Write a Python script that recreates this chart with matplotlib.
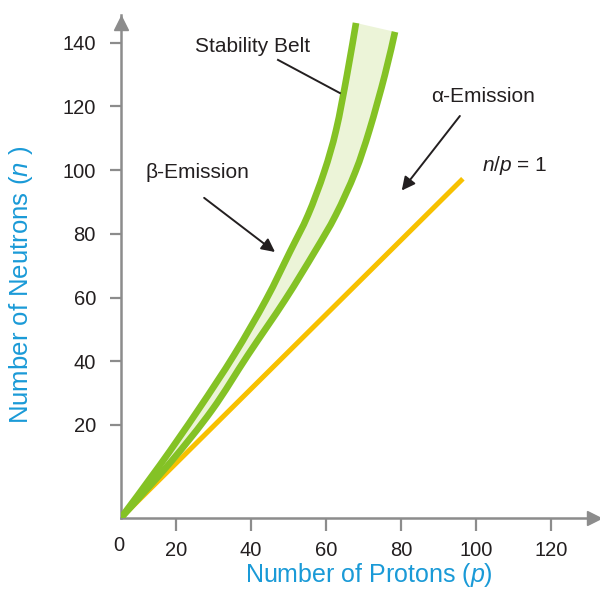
import matplotlib
matplotlib.use("Agg")
import matplotlib.pyplot as plt
from matplotlib.path import Path
from matplotlib.patches import PathPatch

plt.rcParams['font.family'] = ['Liberation Sans', 'DejaVu Sans']
plt.rcParams['mathtext.fontset'] = 'custom'
plt.rcParams['mathtext.rm'] = 'Liberation Sans'
plt.rcParams['mathtext.it'] = 'Liberation Sans:italic'

# stability belt boundaries (protons, neutrons)
belt_upper_p = [5.3, 15.7, 25.9, 35.5, 44.0, 50.4, 55.2, 59.5, 62.7, 65.6, 68.0]
belt_upper_n = [-9.2, 7.4, 24.7, 42.0, 59.3, 74.4, 85.9, 99.4, 112.6, 129.9, 146.2]
belt_lower_p = [5.3, 18.4, 29.6, 39.2, 49.1, 57.0, 62.6, 67.8, 71.6, 75.7, 78.4]
belt_lower_n = [-9.2, 8.1, 24.7, 42.0, 59.3, 74.4, 85.9, 99.4, 112.6, 129.9, 143.4]

# n/p = 1 reference line
ratio_p = [5.3, 96.5]
ratio_n = [-9.2, 97.3]

x_ticks = [20, 40, 60, 80, 100, 120]
y_ticks = [20, 40, 60, 80, 100, 120, 140]

GREEN = '#84c225'
BELT_FILL = '#ecf4d8'
YELLOW = '#f7c100'
AXIS_GRAY = '#8c8c8c'
TEXT = '#231f20'
BLUE = '#1a9ad7'


def curve_segments(xs, ys):
    """Bezier pieces (Catmull-Rom style) that pass through the given points"""
    pts = list(zip(xs, ys))
    verts = []
    n = len(pts)
    for i in range(n - 1):
        p0 = pts[i - 1] if i > 0 else pts[i]
        p1, p2 = pts[i], pts[i + 1]
        p3 = pts[i + 2] if i + 2 < n else pts[i + 1]
        c1 = (p1[0] + (p2[0] - p0[0]) / 6, p1[1] + (p2[1] - p0[1]) / 6)
        c2 = (p2[0] - (p3[0] - p1[0]) / 6, p2[1] - (p3[1] - p1[1]) / 6)
        verts += [c1, c2, p2]
    return pts[0], verts


fig = plt.figure(figsize=(6, 5.89), dpi=100)
ax = fig.add_axes([121 / 600, 71 / 589, 479 / 600, 503 / 589])
ax.set_xlim(5.33, 133.07)
ax.set_ylim(-9.2, 148.7)

# n/p = 1 line under the belt
ax.plot(ratio_p, ratio_n, color=YELLOW, lw=3.6, solid_capstyle='butt', zorder=2)

# belt fill: up the left edge, across the top, down the right edge
start_u, rest_u = curve_segments(belt_upper_p, belt_upper_n)
start_l, rest_l = curve_segments(belt_lower_p[::-1], belt_lower_n[::-1])
verts = [start_u] + rest_u + [start_l] + rest_l + [start_u]
codes = ([Path.MOVETO] + [Path.CURVE4] * len(rest_u) + [Path.LINETO]
         + [Path.CURVE4] * len(rest_l) + [Path.CLOSEPOLY])
ax.add_patch(PathPatch(Path(verts, codes), facecolor=BELT_FILL, lw=0, zorder=3))

# belt edges
for bp, bn in [(belt_upper_p, belt_upper_n), (belt_lower_p, belt_lower_n)]:
    start, rest = curve_segments(bp, bn)
    path = Path([start] + rest, [Path.MOVETO] + [Path.CURVE4] * len(rest))
    ax.add_patch(PathPatch(path, facecolor='none', edgecolor=GREEN, lw=4.8,
                           capstyle='butt', joinstyle='round', zorder=4))

# axes look: gray lines with arrow heads
for side in ['top', 'right']:
    ax.spines[side].set_visible(False)
for side in ['left', 'bottom']:
    ax.spines[side].set_color(AXIS_GRAY)
    ax.spines[side].set_linewidth(1.8)
    ax.spines[side].set_zorder(1)
ax.plot(0.988, 0, '>', transform=ax.transAxes, color=AXIS_GRAY, ms=10,
        clip_on=False, zorder=1)
ax.plot(0, 0.985, '^', transform=ax.transAxes, color=AXIS_GRAY, ms=10,
        clip_on=False, zorder=1)

ax.set_xticks(x_ticks)
ax.set_yticks(y_ticks)
ax.tick_params(axis='x', direction='out', length=9.5, width=1.6, color=AXIS_GRAY,
               labelsize=14.5, labelcolor=TEXT, pad=7)
ax.tick_params(axis='y', direction='out', length=8, width=1.6, color=AXIS_GRAY,
               labelsize=14.5, labelcolor=TEXT, pad=10)
ax.text(-0.005, -0.035, '0', transform=ax.transAxes, fontsize=14.5, color=TEXT,
        ha='center', va='top')

# axis titles placed where the reference has them
fig.text(369 / 600, 1 - 575 / 589, 'Number of Protons ($\\mathit{p}$)', fontsize=18,
         color=BLUE, ha='center', va='center')
fig.text(21 / 600, 1 - 285 / 589, 'Number of Neutrons ($\\mathit{n}$ )', fontsize=18.5,
         color=BLUE, ha='center', va='center', rotation=90)

# annotations
ax.text(40.5, 138.9, 'Stability Belt', fontsize=15, color=TEXT, ha='center', va='center')
ax.plot([47.2, 63.7], [134.6, 124.2], color=TEXT, lw=1.4, zorder=5)

ax.text(25.6, 99.4, 'β-Emission', fontsize=15, color=TEXT, ha='center', va='center')
ax.annotate('', xy=(46.4, 74.3), xytext=(27.5, 91.3),
            arrowprops=dict(arrowstyle='-|>', color=TEXT, lw=1.4,
                            mutation_scale=20, shrinkA=0, shrinkB=0), zorder=5)

ax.text(101.9, 123.1, 'α-Emission', fontsize=15, color=TEXT, ha='center', va='center')
ax.annotate('', xy=(80.2, 93.6), xytext=(95.7, 117.0),
            arrowprops=dict(arrowstyle='-|>', color=TEXT, lw=1.4,
                            mutation_scale=20, shrinkA=0, shrinkB=0), zorder=5)

ax.text(110.4, 101.6, '$\\mathit{n/p}$ = 1', fontsize=15, color=TEXT,
        ha='center', va='center')

fig.savefig('out.png', dpi=100)
